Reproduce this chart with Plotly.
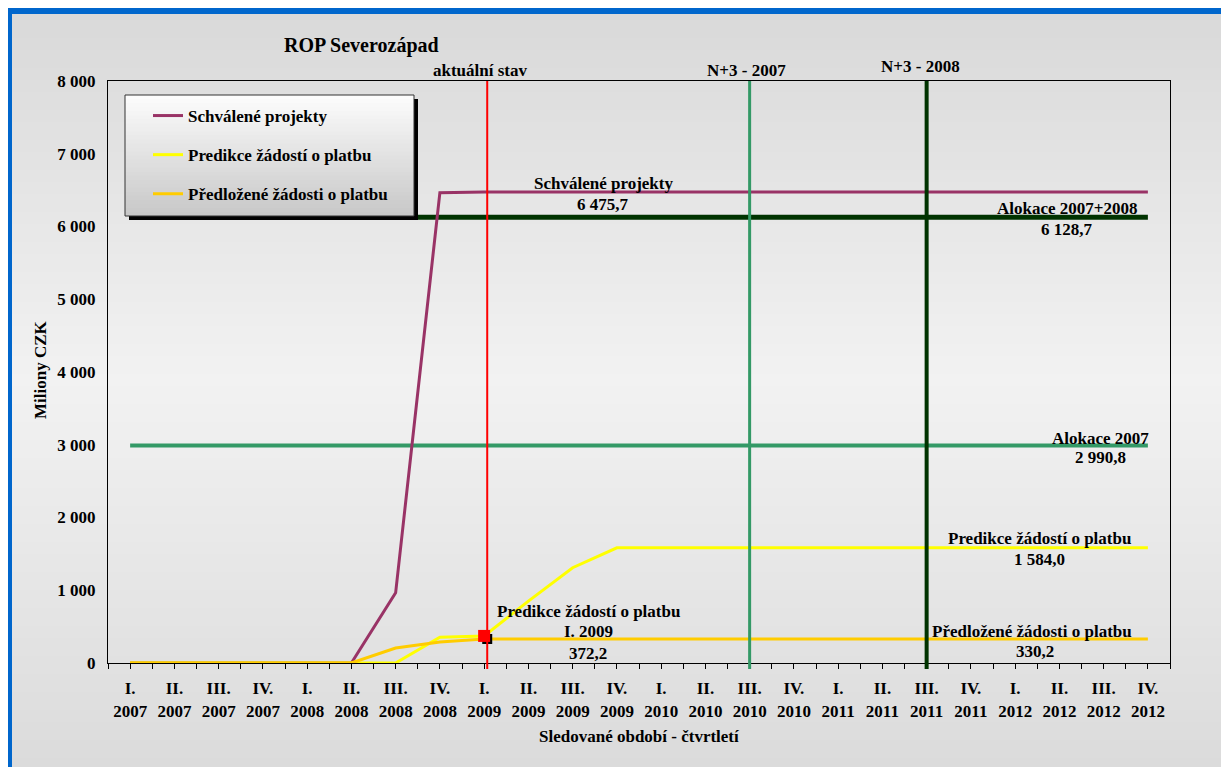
import plotly.graph_objects as go

# ---------------- data ----------------
quarter_labels = ["I.", "II.", "III.", "IV.", "I.", "II.", "III.", "IV.",
                  "I.", "II.", "III.", "IV.", "I.", "II.", "III.", "IV.",
                  "I.", "II.", "III.", "IV.", "I.", "II.", "III.", "IV."]
year_labels = ["2007", "2007", "2007", "2007", "2008", "2008", "2008", "2008",
               "2009", "2009", "2009", "2009", "2010", "2010", "2010", "2010",
               "2011", "2011", "2011", "2011", "2012", "2012", "2012", "2012"]

schvalene = [0, 0, 0, 0, 0, 0, 965, 6465, 6475.7, 6475.7, 6475.7, 6475.7,
             6475.7, 6475.7, 6475.7, 6475.7, 6475.7, 6475.7, 6475.7, 6475.7,
             6475.7, 6475.7, 6475.7, 6475.7]
predikce = [0, 0, 0, 0, 0, 0, 0, 355, 372.2, 850, 1310, 1584.0,
            1584.0, 1584.0, 1584.0, 1584.0, 1584.0, 1584.0, 1584.0, 1584.0,
            1584.0, 1584.0, 1584.0, 1584.0]
predlozene = [0, 0, 0, 0, 0, 0, 205, 290, 330.2, 330.2, 330.2, 330.2,
              330.2, 330.2, 330.2, 330.2, 330.2, 330.2, 330.2, 330.2,
              330.2, 330.2, 330.2, 330.2]

alokace_2007 = 2990.8
alokace_2007_2008 = 6128.7

y_ticks = [0, 1000, 2000, 3000, 4000, 5000, 6000, 7000, 8000]
y_ticktext = ["0", "1 000", "2 000", "3 000", "4 000", "5 000", "6 000", "7 000", "8 000"]

aktualni_stav_x = 8.07      # I. 2009
n3_2007_x = 14              # III. 2010
n3_2008_x = 18              # III. 2011
aktualni_idx = 8

# ---------------- geometry helpers (page pixel coordinates) ----------------
OFF = 8                      # browser body margin
PAGE_W, PAGE_H = 1229, 767
W, H = PAGE_W - OFF, PAGE_H - OFF
L, R, T, B = 108, 1170, 81, 663


def px_x(px):
    return (px - L) / (R - L)


def px_y(py):
    return (B - py) / (B - T)


FONT = "Liberation Serif, Times New Roman, serif"
x_idx = list(range(len(quarter_labels)))
ticktext = [q + "<br>" + y for q, y in zip(quarter_labels, year_labels)]

fig = go.Figure()

# allocation lines
fig.add_trace(go.Scatter(x=[x_idx[0], x_idx[-1]], y=[alokace_2007, alokace_2007],
                         mode="lines", line=dict(color="#339966", width=4),
                         showlegend=False, hoverinfo="skip"))
fig.add_trace(go.Scatter(x=[x_idx[0], x_idx[-1]], y=[alokace_2007_2008, alokace_2007_2008],
                         mode="lines", line=dict(color="#003300", width=5),
                         showlegend=False, hoverinfo="skip"))

# main series
fig.add_trace(go.Scatter(x=x_idx, y=schvalene, mode="lines", name="Schválené projekty",
                         line=dict(color="#993366", width=3), legendgroup="a"))
fig.add_trace(go.Scatter(x=x_idx, y=predikce, mode="lines", name="Predikce žádostí o platbu",
                         line=dict(color="#FFFF00", width=3), legendgroup="b"))
fig.add_trace(go.Scatter(x=x_idx, y=predlozene, mode="lines", name="Předložené žádosti o platbu",
                         line=dict(color="#FFCC00", width=3), legendgroup="c"))

# current-state markers
fig.add_trace(go.Scatter(x=[aktualni_stav_x], y=[predlozene[aktualni_idx]], mode="markers",
                         marker=dict(symbol="square", color="black", size=10),
                         showlegend=False, hoverinfo="skip", cliponaxis=False))
fig.add_trace(go.Scatter(x=[aktualni_idx], y=[predikce[aktualni_idx]], mode="markers",
                         marker=dict(symbol="square", color="#FF0000", size=12),
                         showlegend=False, hoverinfo="skip", cliponaxis=False))

shapes = []
# blue frame + gradient background
shapes.append(dict(type="rect", xref="paper", yref="paper",
                   x0=px_x(7), x1=px_x(PAGE_W + 20), y0=px_y(PAGE_H + 20), y1=px_y(8),
                   fillcolor="#0066CC", line=dict(width=0), layer="below"))


def grad_val(py):
    top, mid, bot = 217, 242, 219
    if py < 380:
        return top + (mid - top) * (py - 14) / (380 - 14)
    return mid + (bot - mid) * (py - 380) / (PAGE_H - 380)


step = 6
py = 14
while py < PAGE_H:
    v = int(round(grad_val(py + step / 2)))
    shapes.append(dict(type="rect", xref="paper", yref="paper",
                       x0=px_x(12), x1=px_x(PAGE_W + 20), y0=px_y(py + step + 1), y1=px_y(py),
                       fillcolor=f"rgb({v},{v},{v})", line=dict(width=0), layer="below"))
    py += step

# legend box with shadow and gradient
LX0, LX1, LY0, LY1 = 125, 414, 95, 216
shapes.append(dict(type="rect", xref="paper", yref="paper",
                   x0=px_x(LX0 + 4), x1=px_x(LX1 + 4), y0=px_y(LY1 + 4), y1=px_y(LY0 + 4),
                   fillcolor="black", line=dict(width=0), layer="above"))
n = 30
for i in range(n):
    y0 = LY0 + (LY1 - LY0) * i / n
    y1 = LY0 + (LY1 - LY0) * (i + 1) / n
    v = int(round(252 - (252 - 200) * (i / (n - 1))))
    shapes.append(dict(type="rect", xref="paper", yref="paper",
                       x0=px_x(LX0), x1=px_x(LX1), y0=px_y(min(y1 + 1.5, LY1)), y1=px_y(y0),
                       fillcolor=f"rgb({v},{v},{v})", line=dict(width=0), layer="above"))
shapes.append(dict(type="rect", xref="paper", yref="paper",
                   x0=px_x(LX0), x1=px_x(LX1), y0=px_y(LY1), y1=px_y(LY0),
                   fillcolor="rgba(0,0,0,0)", line=dict(width=1, color="#333333"), layer="above"))

# vertical milestone lines
for xv, col, w in [(aktualni_stav_x, "#FF0000", 2), (n3_2007_x, "#339966", 3), (n3_2008_x, "#003300", 4)]:
    shapes.append(dict(type="line", xref="x", yref="paper", x0=xv, x1=xv,
                       y0=px_y(669), y1=px_y(T), line=dict(color=col, width=w), layer="above"))

fig.update_layout(shapes=shapes)


def ann(text, x, y, size=17, xanchor="center", angle=0):
    fig.add_annotation(text=text, x=px_x(x), y=px_y(y), xref="paper", yref="paper",
                       xanchor=xanchor, yanchor="middle", showarrow=False, textangle=angle,
                       font=dict(family=FONT, size=size, color="black", weight="bold"))


ann("ROP Severozápad", 282, 45, size=20, xanchor="left")
ann("aktuální stav", 480, 70)
ann("N+3 - 2007", 746, 70)
ann("N+3 - 2008", 920, 66)
ann("Schválené projekty", 603, 183)
ann("6 475,7", 603, 204)
ann("Alokace 2007+2008", 1067, 208)
ann("6 128,7", 1067, 229)
ann("Alokace 2007", 1100, 438)
ann("2 990,8", 1100, 458)
ann("Predikce žádostí o platbu", 1039, 538)
ann("1 584,0", 1039, 559)
ann("Předložené žádosti o platbu", 1032, 631)
ann("330,2", 1035, 651)
ann("Predikce žádostí o platbu", 588, 611)
ann("I. 2009", 588, 631)
ann("372,2", 588, 653)
ann("Sledované období - čtvrtletí", 639, 736)
ann("Miliony CZK", 40, 370, angle=-90)

fig.update_layout(
    width=W, height=H,
    margin=dict(l=L - OFF, r=W - (R - OFF), t=T - OFF, b=H - (B - OFF), pad=0),
    paper_bgcolor="white",
    plot_bgcolor="rgba(0,0,0,0)",
    font=dict(family=FONT, size=17, color="black"),
    showlegend=True,
    legend=dict(x=px_x(148), y=px_y(98), xanchor="left", yanchor="top",
                bgcolor="rgba(0,0,0,0)", borderwidth=0, tracegroupgap=14,
                font=dict(family=FONT, size=17, color="black", weight="bold"),
                itemwidth=30),
    xaxis=dict(range=[-0.5, len(x_idx) - 0.5], tickmode="array", tickvals=x_idx, ticktext=ticktext,
               showgrid=False, zeroline=False, showline=True, linecolor="black", linewidth=1,
               mirror=True, ticks="outside", ticklen=5, tickcolor="black", ticklabelstandoff=5,
               minor=dict(tickmode="array", tickvals=[i + 0.5 for i in x_idx[:-1]] + [-0.5, len(x_idx) - 0.5],
                          ticks="outside", ticklen=5, tickcolor="black", showgrid=False),
               tickfont=dict(family=FONT, size=17, color="black", weight="bold")),
    yaxis=dict(range=[0, 8000], tickmode="array", tickvals=y_ticks, ticktext=y_ticktext,
               showgrid=False, zeroline=False, showline=True, linecolor="black", linewidth=1,
               mirror=True, ticks="", ticklabelstandoff=8,
               tickfont=dict(family=FONT, size=17, color="black", weight="bold")),
)

fig.write_html("out.html")
